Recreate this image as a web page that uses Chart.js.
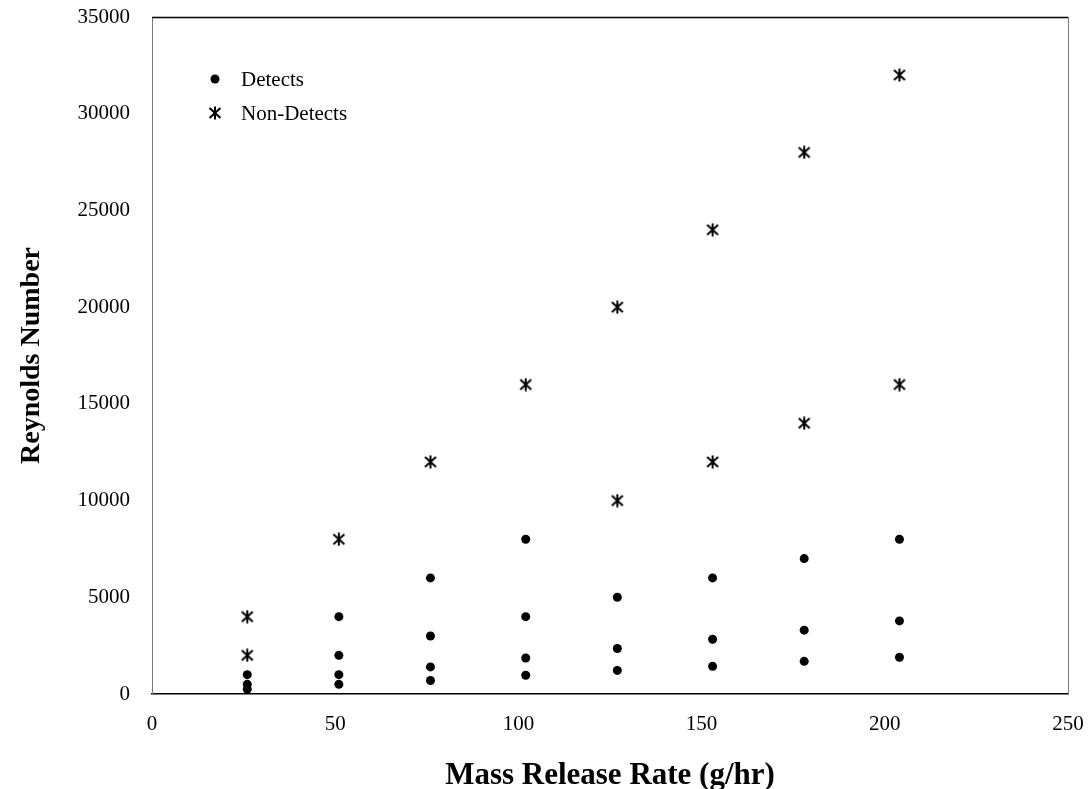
<!DOCTYPE html>
<html>
<head>
<meta charset="utf-8">
<style>
	html, body { margin: 0; padding: 0; background: #fff; }
	#chart-reynolds { display: block; }
</style>
<script src="https://cdn.jsdelivr.net/npm/chart.js@4/dist/chart.umd.min.js"></script>
</head>
<body>
<canvas id="chart-reynolds" width="1088" height="789"></canvas>
<script>
// Chart data
const detectsX = [26, 26, 26, 51, 51, 51, 51, 76, 76, 76, 76, 102, 102, 102, 102, 127, 127, 127, 153, 153, 153, 178, 178, 178, 204, 204, 204];
const detectsY = [1000, 500, 250, 4000, 2000, 1000, 500, 6000, 3000, 1400, 700, 8000, 4000, 1860, 970, 5000, 2350, 1220, 6000, 2830, 1430, 7000, 3300, 1690, 8000, 3780, 1900];
const nonDetectsX = [26, 26, 51, 76, 102, 127, 127, 153, 153, 178, 178, 204, 204];
const nonDetectsY = [4000, 2000, 8000, 12000, 16000, 20000, 10000, 24000, 12000, 28000, 14000, 32000, 16000];
const xTicks = [0, 50, 100, 150, 200, 250];
const yTicks = [0, 5000, 10000, 15000, 20000, 25000, 30000, 35000];

const FONT = "'Liberation Serif', 'Times New Roman', serif";

// asterisk marker: x with a vertical stroke
const makeStar = () => {
	const c = document.createElement("canvas");
	c.width = 14;
	c.height = 14;
	const g = c.getContext("2d");
	g.strokeStyle = "#000";
	g.lineWidth = 2;
	g.beginPath();
	g.moveTo(7, 0.5); g.lineTo(7, 13.5);
	g.moveTo(1.5, 2); g.lineTo(12.5, 12);
	g.moveTo(12.5, 2); g.lineTo(1.5, 12);
	g.stroke();
	return c;
};
const STAR = makeStar();

const toPoints = (xs, ys) => xs.map((x, i) => ({ x, y: ys[i] }));

// legend inside the plot, top-left
const insideLegend = {
	id: "insideLegend",
	afterDatasetsDraw(chart) {
		const { ctx } = chart;
		ctx.save();
		ctx.font = "21px " + FONT;
		ctx.fillStyle = "#000";
		ctx.textBaseline = "middle";
		ctx.textAlign = "left";
		chart.data.datasets.forEach((ds, i) => {
			const y = 79 + i * 34;
			if (ds.pointStyle === "circle") {
				ctx.beginPath();
				ctx.arc(215, y, 4.5, 0, Math.PI * 2);
				ctx.fill();
			} else {
				ctx.drawImage(STAR, 215 - 7, y - 7);
			}
			ctx.fillText(ds.label, 241, y + 1);
		});
		ctx.restore();
	},
};

// frame on top and right of plot area
const frame = {
	id: "frame",
	afterDraw(chart) {
		const { ctx, chartArea: a } = chart;
		ctx.save();
		ctx.lineWidth = 1.5;
		ctx.strokeStyle = "#000";
		ctx.beginPath();
		ctx.moveTo(a.left, a.top + 0.5);
		ctx.lineTo(a.right, a.top + 0.5);
		ctx.stroke();
		ctx.lineWidth = 1;
		ctx.strokeStyle = "#7a7a7a";
		ctx.beginPath();
		ctx.moveTo(a.right + 0.5, a.top);
		ctx.lineTo(a.right + 0.5, a.bottom);
		ctx.stroke();
		ctx.restore();
	},
};

const CHART_CONFIG = {
	type: "scatter",
	data: {
		datasets: [
			{
				label: "Detects",
				data: toPoints(detectsX, detectsY),
				pointStyle: "circle",
				pointRadius: 4.5,
				pointHoverRadius: 4.5,
				backgroundColor: "#000",
				borderColor: "#000",
				borderWidth: 0,
			},
			{
				label: "Non-Detects",
				data: toPoints(nonDetectsX, nonDetectsY),
				pointStyle: STAR,
				pointRadius: 7,
				backgroundColor: "#000",
				borderColor: "#000",
			},
		],
	},
	options: {
		responsive: false,
		animation: false,
		layout: {
			padding: { top: 17, right: 20, left: 0, bottom: 0 },
		},
		plugins: {
			legend: { display: false },
			tooltip: { enabled: false },
		},
		scales: {
			x: {
				type: "linear",
				min: 0,
				max: 250,
				afterBuildTicks: (s) => { s.ticks = xTicks.map((v) => ({ value: v })); },
				afterFit: (s) => {
					s.height = 95;
					s.paddingLeft = 0;
					s.paddingRight = 0;
				},
				grid: { display: false },
				border: { display: true, color: "#000", width: 1.5 },
				ticks: {
					color: "#000",
					font: { family: FONT, size: 21 },
					padding: 10,
					callback: (v) => String(v),
				},
				title: {
					display: true,
					text: "Mass Release Rate (g/hr)",
					color: "#000",
					font: { family: FONT, size: 31, weight: "bold", lineHeight: 1 },
					padding: { top: 0, bottom: -2 },
				},
			},
			y: {
				type: "linear",
				min: 0,
				max: 35000,
				afterBuildTicks: (s) => { s.ticks = yTicks.map((v) => ({ value: v })); },
				afterFit: (s) => {
					s.width = 152;
					s.paddingTop = 0;
					s.paddingBottom = 0;
				},
				grid: { display: false },
				border: { display: true, color: "#7a7a7a", width: 1 },
				ticks: {
					color: "#000",
					font: { family: FONT, size: 21 },
					padding: 14,
					callback: (v) => String(v),
				},
				title: {
					display: true,
					text: "Reynolds Number",
					color: "#000",
					font: { family: FONT, size: 28, weight: "bold", lineHeight: 1 },
					padding: { top: 18, bottom: 0 },
				},
			},
		},
	},
	plugins: [insideLegend, frame],
};

new Chart(document.getElementById("chart-reynolds"), CHART_CONFIG);
</script>
</body>
</html>
